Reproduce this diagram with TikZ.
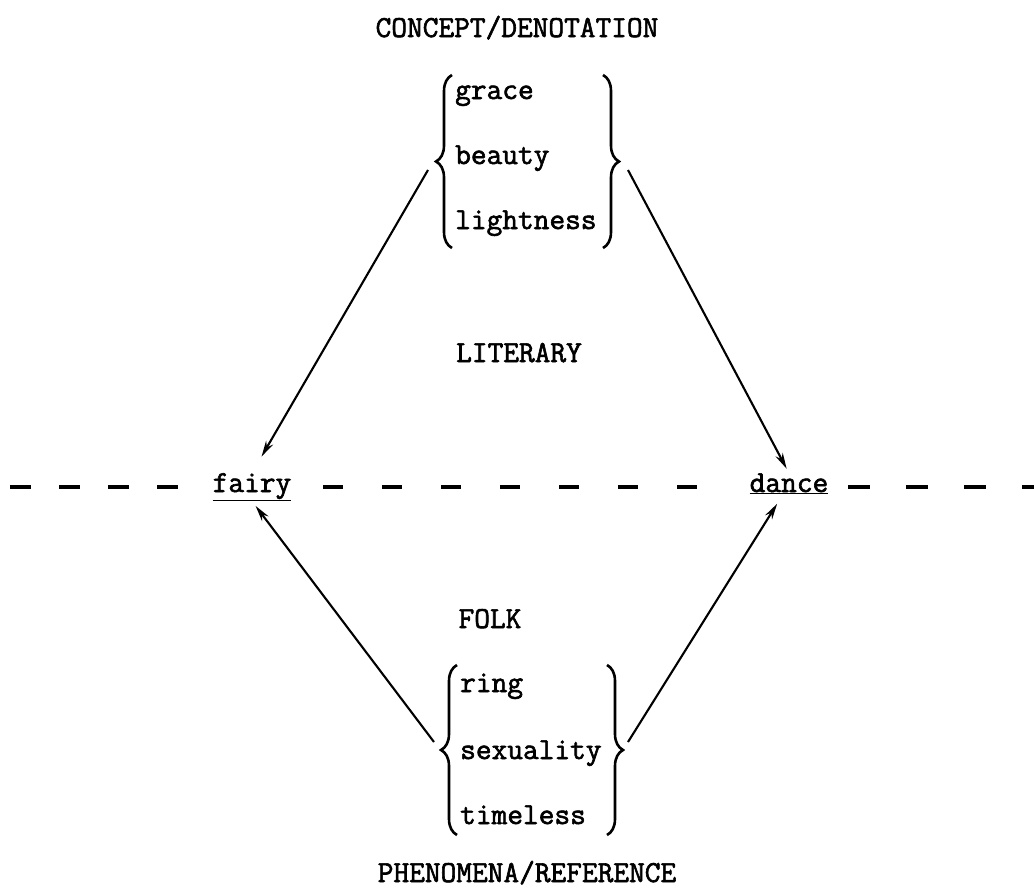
\documentclass[tikz,border=0pt]{standalone}
\usepackage{fontspec}
\setmonofont{Latin Modern Mono}[FakeBold=2]
\usetikzlibrary{arrows.meta,decorations.pathreplacing}
\begin{document}
\begin{tikzpicture}[x=1pt,y=-1pt,
  lbl/.style={font=\ttfamily\fontsize{30.5}{34}\selectfont, inner sep=0pt, anchor=base},
  item/.style={lbl, anchor=base west},
  arr/.style={line width=2.1pt, -{Stealth[length=16pt,width=8pt]}},
  brc/.style={line width=2.6pt, decorate, decoration={brace, amplitude=16pt}},
  sepline/.style={line width=3.4pt}]
\useasboundingbox (0,0) rectangle (1034,894);
% labels
\node[lbl] (concept) at (517,37) {CONCEPT/DENOTATION};
\node[item] (grace) at (455,99) {grace};
\node[item] (beauty) at (455,164) {beauty};
\node[item] (lightness) at (455,229) {lightness};
\node[lbl] (literary) at (519,362) {LITERARY};
\node[lbl] (fairy) at (252,492) {\underline{fairy}};
\node[lbl] (dance) at (789,492) {\underline{dance}};
\node[lbl] (folk) at (490,628) {FOLK};
\node[item] (ring) at (460,692) {ring};
\node[item] (sexuality) at (460,759) {sexuality};
\node[item] (timeless) at (460,824) {timeless};
\node[lbl] (phen) at (527,882) {PHENOMENA/REFERENCE};
% braces
\draw[brc] (452,248) -- (452,75);
\draw[brc] (603,75) -- (603,248);
\draw[brc] (457,835) -- (457,665);
\draw[brc] (607,665) -- (607,835);
% arrow start points
\coordinate (tl) at (428,170);
\coordinate (tr) at (628,170);
\coordinate (bl) at (434,742);
\coordinate (br) at (628,742);
\draw[arr, shorten >=19pt] (tl) -- (fairy.north);
\draw[arr, shorten >=5pt] (tr) -- (dance.north);
\draw[arr, shorten >=6pt] (bl) -- (fairy.south);
\draw[arr, shorten >=11pt] (br) -- ([xshift=-6pt]dance.south);
% dashed separator
\coordinate (d1) at (10,487); \coordinate (d2) at (178,487);
\coordinate (d3) at (323,487); \coordinate (d4) at (697,487);
\coordinate (d5) at (848,487); \coordinate (d6) at (1034,487);
\draw[sepline, dash pattern=on 21pt off 28pt] (d1) -- (d2);
\draw[sepline, dash pattern=on 20pt off 39pt] (d3) -- (d4);
\draw[sepline, dash pattern=on 22pt off 36pt] (d5) -- (d6);
\end{tikzpicture}
\end{document}
